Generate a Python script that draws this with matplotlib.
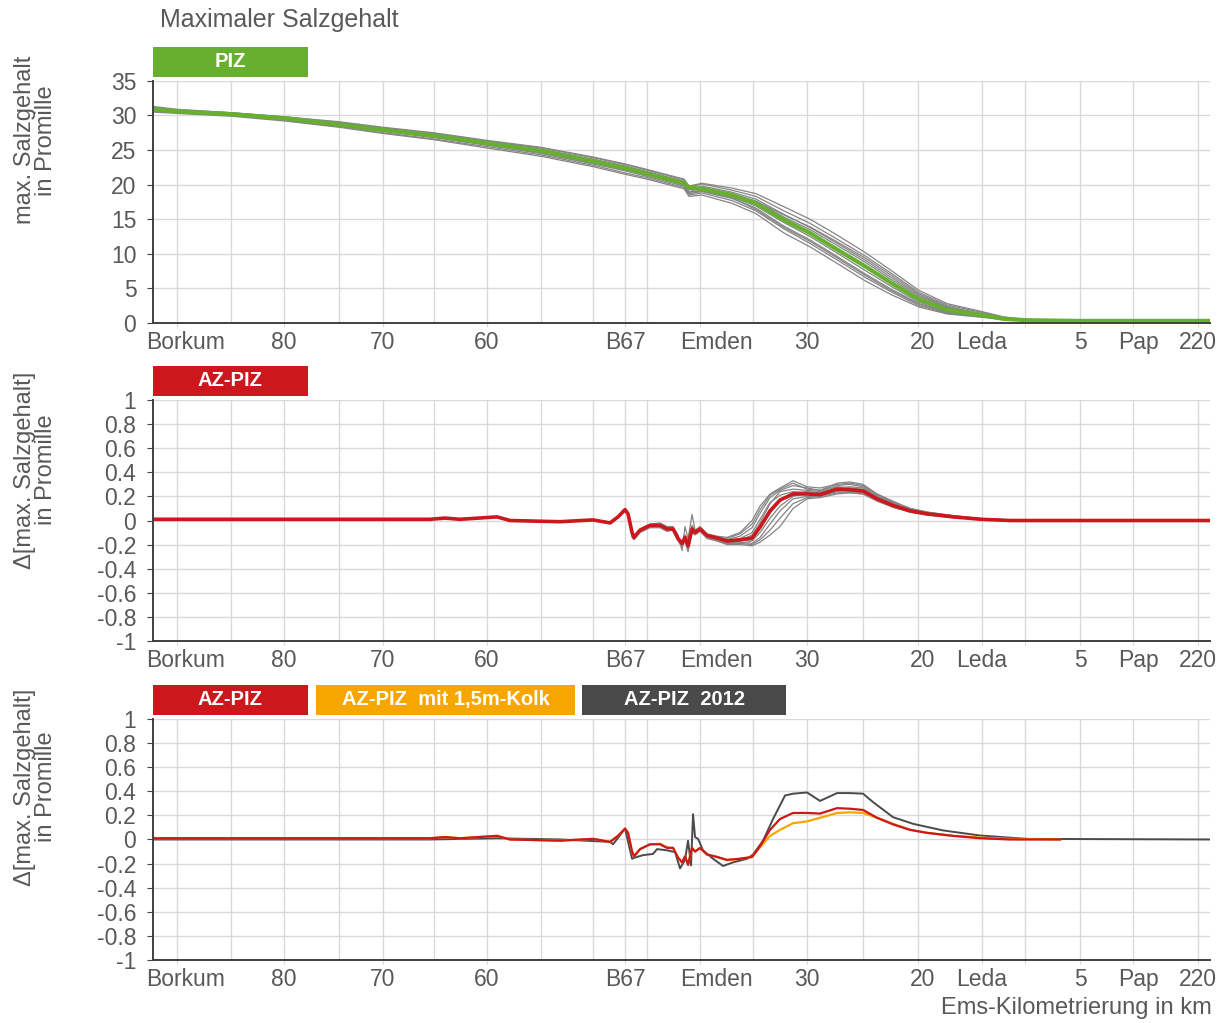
import matplotlib
matplotlib.use('Agg')
import matplotlib.pyplot as plt
import matplotlib.transforms as mtransforms
from matplotlib.patches import Rectangle

plt.rcParams['font.family'] = ['Liberation Sans', 'DejaVu Sans']
plt.rcParams['axes.unicode_minus'] = False

# ---- x axis (position along model axis, arbitrary units) ----
x_grid = [2.4, 7.8, 13.1, 18.6, 23.0, 28.1, 33.4, 38.8, 44.0, 47.2, 49.4,
          54.7, 60.0, 65.4, 71.0, 76.5, 82.9, 87.2, 92.7, 98.0, 104.5]
x_ticks = [2.4, 13.1, 23.0, 33.4, 47.2, 54.7, 65.4, 76.5, 82.9, 87.2, 92.7, 98.0, 104.5]
x_labels = ['Borkum', '80', '70', '60', 'B67', 'Emden', '30', '20', 'Leda', '', '5', 'Pap', '220']
x_max = 105.7

# ---- panel 1: max. salinity ----
s1 = [0.0, 2.4, 7.8, 13.2, 18.6, 23.0, 28.1, 33.4, 38.8, 44.0, 47.2, 49.4, 53.1, 53.6, 54.9,
      57.9, 60.3, 63.1, 65.7, 68.2, 71.2, 73.8, 76.6, 79.4, 83.0, 85.0, 87.3, 92.4, 105.7]
piz = [30.9, 30.6, 30.2, 29.6, 28.7, 27.9, 27.1, 26.0, 24.9, 23.4, 22.4, 21.6, 20.2, 19.6, 19.4,
       18.5, 17.3, 14.9, 13.0, 10.8, 8.2, 5.8, 3.4, 1.9, 1.1, 0.6, 0.4, 0.3, 0.3]
piz_members = [
    [31.2, 30.8, 30.4, 29.8, 29.0, 28.2, 27.4, 26.3, 25.3, 23.9, 22.9, 22.1, 20.7, 19.6, 20.1,
     19.2, 18.3, 16.2, 14.4, 12.3, 9.7, 7.2, 4.4, 2.6, 1.5, 0.8, 0.5, 0.3, 0.3],
    [31.0, 30.7, 30.3, 29.7, 28.9, 28.1, 27.3, 26.2, 25.1, 23.7, 22.7, 21.9, 20.5, 19.3, 19.8,
     18.9, 17.9, 15.7, 13.8, 11.7, 9.1, 6.6, 4.0, 2.3, 1.3, 0.7, 0.4, 0.3, 0.3],
    [30.8, 30.5, 30.1, 29.5, 28.6, 27.8, 26.9, 25.8, 24.7, 23.2, 22.1, 21.4, 20.0, 18.9, 19.2,
     18.2, 16.9, 14.5, 12.5, 10.3, 7.6, 5.3, 3.0, 1.7, 1.0, 0.6, 0.4, 0.3, 0.3],
    [30.6, 30.4, 30.0, 29.3, 28.4, 27.5, 26.6, 25.5, 24.3, 22.8, 21.7, 21.0, 19.6, 18.5, 18.8,
     17.7, 16.2, 13.6, 11.5, 9.3, 6.6, 4.5, 2.5, 1.4, 0.9, 0.5, 0.4, 0.3, 0.3],
    [31.1, 30.7, 30.3, 29.7, 28.8, 28.0, 27.2, 26.1, 25.0, 23.5, 22.5, 21.8, 20.4, 19.3, 19.6,
     18.7, 17.6, 15.3, 13.5, 11.4, 8.8, 6.3, 3.8, 2.2, 1.2, 0.7, 0.4, 0.3, 0.3],
    [30.7, 30.5, 30.1, 29.4, 28.5, 27.7, 26.8, 25.7, 24.5, 23.0, 22.0, 21.2, 19.8, 18.7, 19.0,
     18.0, 16.6, 14.0, 12.0, 9.8, 7.1, 4.9, 2.8, 1.6, 0.9, 0.6, 0.4, 0.3, 0.3],
    [31.3, 30.9, 30.4, 29.8, 29.1, 28.3, 27.5, 26.4, 25.4, 24.0, 23.0, 22.2, 20.8, 19.8, 20.2,
     19.5, 18.7, 16.8, 15.0, 12.9, 10.2, 7.6, 4.7, 2.8, 1.6, 0.9, 0.5, 0.3, 0.3],
    [30.5, 30.3, 29.9, 29.2, 28.3, 27.4, 26.5, 25.3, 24.1, 22.6, 21.5, 20.8, 19.4, 18.3, 18.5,
     17.3, 15.8, 13.0, 11.0, 8.8, 6.1, 4.1, 2.3, 1.3, 0.8, 0.5, 0.4, 0.3, 0.3],
    [30.9, 30.6, 30.2, 29.6, 28.7, 27.9, 27.0, 25.9, 24.8, 23.3, 22.3, 21.5, 20.1, 19.0, 19.5,
     18.6, 17.6, 15.6, 13.9, 11.9, 9.4, 6.9, 4.2, 2.4, 1.3, 0.7, 0.4, 0.3, 0.3],
    [30.8, 30.6, 30.2, 29.5, 28.6, 27.8, 26.9, 25.8, 24.6, 23.1, 22.2, 21.4, 20.0, 18.9, 19.1,
     18.1, 16.4, 13.8, 11.8, 9.6, 6.9, 4.7, 2.7, 1.5, 0.9, 0.6, 0.4, 0.3, 0.3],
]

# ---- panel 2/3: difference AZ-PIZ ----
s2 = [0.0, 27.7, 29.2, 30.7, 34.4, 35.7, 40.7, 44.0, 45.7, 46.5, 47.2, 47.5, 47.9, 48.1, 48.7,
      49.7, 50.7, 51.4, 52.0, 52.5, 52.9, 53.2, 53.5, 53.9, 54.2, 54.7, 55.4, 56.4, 57.4, 58.7,
      59.9, 60.7, 61.7, 62.7, 64.0, 65.4, 66.7, 68.4, 69.7, 71.0, 72.4, 74.0, 75.7, 77.4, 80.0,
      82.8, 85.7, 90.7, 105.7]
az_piz = [0.01, 0.01, 0.02, 0.01, 0.03, 0.0, -0.01, 0.005, -0.02, 0.03, 0.09, 0.055, -0.10, -0.14,
          -0.08, -0.04, -0.04, -0.07, -0.07, -0.15, -0.19, -0.14, -0.21, -0.07, -0.10, -0.07, -0.125,
          -0.145, -0.17, -0.16, -0.145, -0.055, 0.08, 0.17, 0.22, 0.22, 0.215, 0.26, 0.255, 0.245,
          0.18, 0.125, 0.08, 0.055, 0.03, 0.01, 0.0, 0.0, 0.0]
az_members = [
    [0.01, 0.01, 0.02, 0.01, 0.03, 0.0, -0.01, 0.005, -0.02, 0.035, 0.10, 0.06, -0.12, -0.15, -0.07,
     -0.03, -0.02, -0.05, -0.05, -0.12, -0.25, -0.05, -0.15, 0.05, -0.08, -0.05, -0.11, -0.13, -0.14,
     -0.10, 0.00, 0.12, 0.22, 0.27, 0.33, 0.28, 0.27, 0.30, 0.31, 0.29, 0.22, 0.16, 0.10, 0.07, 0.04,
     0.015, 0.005, 0.0, 0.0],
    [0.01, 0.01, 0.02, 0.01, 0.03, 0.0, -0.01, 0.0, -0.025, 0.025, 0.08, 0.05, -0.14, -0.16, -0.10,
     -0.06, -0.06, -0.09, -0.08, -0.17, -0.22, -0.17, -0.26, -0.10, -0.12, -0.09, -0.15, -0.17, -0.20,
     -0.20, -0.21, -0.18, -0.12, -0.05, 0.10, 0.18, 0.19, 0.22, 0.23, 0.22, 0.17, 0.11, 0.07, 0.05,
     0.025, 0.01, 0.0, 0.0, 0.0],
    [0.01, 0.01, 0.02, 0.01, 0.03, 0.0, -0.01, 0.005, -0.02, 0.03, 0.09, 0.05, -0.09, -0.13, -0.09,
     -0.05, -0.05, -0.06, -0.08, -0.14, -0.18, -0.12, -0.19, -0.05, -0.09, -0.08, -0.13, -0.16, -0.18,
     -0.17, -0.12, -0.02, 0.14, 0.24, 0.26, 0.25, 0.24, 0.28, 0.27, 0.26, 0.20, 0.14, 0.09, 0.06,
     0.035, 0.012, 0.0, 0.0, 0.0],
    [0.01, 0.01, 0.02, 0.01, 0.03, 0.0, -0.01, 0.005, -0.02, 0.03, 0.09, 0.06, -0.11, -0.15, -0.08,
     -0.04, -0.03, -0.07, -0.06, -0.16, -0.20, -0.15, -0.22, -0.08, -0.11, -0.08, -0.13, -0.15, -0.18,
     -0.18, -0.19, -0.14, -0.03, 0.08, 0.18, 0.20, 0.20, 0.24, 0.23, 0.22, 0.16, 0.11, 0.07, 0.045,
     0.025, 0.01, 0.0, 0.0, 0.0],
    [0.01, 0.01, 0.02, 0.01, 0.03, 0.0, -0.01, 0.005, -0.02, 0.03, 0.09, 0.055, -0.10, -0.14, -0.08,
     -0.04, -0.04, -0.07, -0.07, -0.15, -0.19, -0.13, -0.20, -0.07, -0.10, -0.07, -0.12, -0.14, -0.16,
     -0.13, -0.06, 0.06, 0.19, 0.25, 0.29, 0.27, 0.25, 0.29, 0.30, 0.28, 0.21, 0.15, 0.10, 0.065,
     0.04, 0.015, 0.005, 0.0, 0.0],
    [0.01, 0.01, 0.02, 0.01, 0.03, 0.0, -0.01, 0.005, -0.02, 0.03, 0.09, 0.05, -0.10, -0.14, -0.08,
     -0.04, -0.04, -0.07, -0.07, -0.15, -0.19, -0.14, -0.21, -0.07, -0.10, -0.07, -0.14, -0.16, -0.19,
     -0.19, -0.17, -0.10, 0.02, 0.12, 0.20, 0.23, 0.22, 0.26, 0.27, 0.25, 0.19, 0.13, 0.085, 0.06,
     0.03, 0.01, 0.0, 0.0, 0.0],
    [0.01, 0.01, 0.02, 0.01, 0.03, 0.0, -0.01, 0.005, -0.02, 0.03, 0.095, 0.05, -0.11, -0.15, -0.09,
     -0.05, -0.04, -0.06, -0.07, -0.14, -0.21, -0.13, -0.18, -0.04, -0.09, -0.07, -0.12, -0.14, -0.15,
     -0.11, -0.03, 0.09, 0.21, 0.26, 0.31, 0.26, 0.25, 0.31, 0.32, 0.30, 0.22, 0.15, 0.10, 0.07,
     0.04, 0.015, 0.005, 0.0, 0.0],
    [0.01, 0.01, 0.02, 0.01, 0.03, 0.0, -0.01, 0.005, -0.02, 0.03, 0.085, 0.05, -0.12, -0.15, -0.09,
     -0.05, -0.05, -0.08, -0.08, -0.16, -0.21, -0.16, -0.24, -0.09, -0.11, -0.08, -0.14, -0.17, -0.19,
     -0.19, -0.20, -0.16, -0.08, 0.02, 0.14, 0.19, 0.20, 0.23, 0.24, 0.23, 0.17, 0.12, 0.075, 0.05,
     0.025, 0.01, 0.0, 0.0, 0.0],
    [0.01, 0.01, 0.02, 0.01, 0.03, 0.0, -0.01, 0.005, -0.02, 0.03, 0.09, 0.055, -0.10, -0.14, -0.08,
     -0.04, -0.04, -0.07, -0.07, -0.15, -0.19, -0.14, -0.21, -0.07, -0.10, -0.07, -0.13, -0.15, -0.17,
     -0.15, -0.10, 0.01, 0.15, 0.21, 0.24, 0.23, 0.23, 0.27, 0.26, 0.25, 0.19, 0.13, 0.085, 0.06,
     0.03, 0.01, 0.0, 0.0, 0.0],
    [0.01, 0.01, 0.02, 0.01, 0.03, 0.0, -0.01, 0.005, -0.02, 0.03, 0.09, 0.055, -0.10, -0.14, -0.08,
     -0.04, -0.04, -0.07, -0.07, -0.15, -0.19, -0.14, -0.21, -0.07, -0.10, -0.07, -0.125, -0.145, -0.17,
     -0.17, -0.16, -0.07, 0.06, 0.16, 0.23, 0.24, 0.23, 0.27, 0.28, 0.27, 0.21, 0.14, 0.09, 0.06,
     0.035, 0.012, 0.0, 0.0, 0.0],
]
az_kolk = [0.01, 0.01, 0.02, 0.01, 0.03, 0.0, -0.01, 0.005, -0.02, 0.03, 0.09, 0.055, -0.10, -0.14,
           -0.08, -0.04, -0.035, -0.065, -0.07, -0.15, -0.19, -0.14, -0.21, -0.07, -0.10, -0.07, -0.125,
           -0.145, -0.17, -0.16, -0.145, -0.065, 0.03, 0.08, 0.135, 0.15, 0.18, 0.22, 0.225, 0.22,
           0.18, 0.13, 0.08, 0.055, 0.03, 0.015, 0.005, 0.0, 0.0]

s3 = [0.0, 27.7, 34.4, 40.7, 45.7, 46.0, 47.2, 47.9, 48.2, 49.0, 50.0, 50.4, 51.4, 52.2, 52.7, 53.2,
      53.5, 53.8, 54.0, 54.2, 54.5, 55.0, 56.0, 57.0, 58.0, 59.4, 60.0, 61.0, 62.0, 63.2, 64.0, 65.4,
      66.7, 68.4, 69.7, 71.0, 72.0, 74.0, 76.0, 79.0, 82.7, 87.4, 105.7]
az_2012 = [0.0, 0.0, 0.01, 0.0, -0.02, -0.04, 0.09, -0.16, -0.15, -0.13, -0.12, -0.08, -0.09, -0.105,
           -0.24, -0.17, -0.01, -0.215, 0.21, 0.02, 0.005, -0.09, -0.16, -0.22, -0.19, -0.16, -0.125,
           -0.01, 0.17, 0.365, 0.38, 0.39, 0.32, 0.385, 0.385, 0.38, 0.31, 0.185, 0.13, 0.075, 0.033,
           0.005, 0.0]

sal_ticks = [0, 5, 10, 15, 20, 25, 30, 35]
diff_ticks = [-1, -0.8, -0.6, -0.4, -0.2, 0, 0.2, 0.4, 0.6, 0.8, 1]
diff_labels = ['-1', '-0.8', '-0.6', '-0.4', '-0.2', '0', '0.2', '0.4', '0.6', '0.8', '1']

TXT = '#595959'
GRID = '#d9d9d9'
SPINE = '#404040'
GREEN = '#67b02f'
RED = '#cc171d'
ORANGE = '#f7a600'
DARK = '#4a4a4a'
GREY = '#858585'

fig = plt.figure(figsize=(12.32, 10.23), dpi=100)
ax1 = fig.add_axes([0.1242, 0.6843, 0.858, 0.2366])
ax2 = fig.add_axes([0.1242, 0.3734, 0.858, 0.2356])
ax3 = fig.add_axes([0.1242, 0.0616, 0.858, 0.2356])

label_shift = {'Borkum': 6, 'Emden': 12, '20': 3, 'Pap': 4}


def style(ax, yticks, ylabels, ylim, ylabel, ylab_y):
    ax.set_xlim(0, x_max)
    ax.set_ylim(*ylim)
    ax.set_xticks(x_grid, minor=True)
    ax.set_xticks(x_ticks)
    ax.set_xticklabels(x_labels)
    ax.set_yticks(yticks)
    ax.set_yticklabels(ylabels)
    ax.grid(True, which='both', color=GRID, linewidth=1.0)
    ax.set_axisbelow(True)
    for sp in ['top', 'right']:
        ax.spines[sp].set_visible(False)
    for sp in ['left', 'bottom']:
        ax.spines[sp].set_color(SPINE)
        ax.spines[sp].set_linewidth(1.4)
    ax.tick_params(axis='x', which='major', length=3, pad=2.5, colors=GRID,
                   labelcolor=TXT, labelsize=16.5)
    ax.tick_params(axis='x', which='minor', length=0)
    ax.tick_params(axis='y', length=4, pad=8, colors=SPINE, labelcolor=TXT, labelsize=16.5)
    for lab in ax.get_xticklabels():
        dx = label_shift.get(lab.get_text(), 0)
        if dx:
            lab.set_transform(lab.get_transform() +
                              mtransforms.ScaledTranslation(dx / 72, 0, fig.dpi_scale_trans))
    ax.set_ylabel(ylabel, fontsize=17, color=TXT, linespacing=0.95)
    ax.yaxis.set_label_coords(-0.091, ylab_y)


def tag(ax, x0, w, color, text):
    ax.add_patch(Rectangle((x0, 1.0166), w, 0.1245, transform=ax.transAxes,
                           facecolor=color, edgecolor='none', clip_on=False))
    ax.text(x0 + w / 2, 1.0166 + 0.1245 / 2, text, transform=ax.transAxes,
            ha='center', va='center', color='white', fontsize=14.5, fontweight='bold')


# panel 1
for m in piz_members:
    ax1.plot(s1, m, color=GREY, linewidth=0.9)
ax1.plot(s1, piz, color=GREEN, linewidth=3)
style(ax1, sal_ticks, [str(t) for t in sal_ticks], (0, 35),
      'max. Salzgehalt\nin Promille', 0.755)
tag(ax1, 0.0, 0.1466, GREEN, 'PIZ')

# panel 2
for m in az_members:
    ax2.plot(s2, m, color=GREY, linewidth=0.9)
ax2.plot(s2, az_piz, color=RED, linewidth=2.6)
style(ax2, diff_ticks, diff_labels, (-1, 1),
      '\u0394[max. Salzgehalt]\nin Promille', 0.71)
tag(ax2, 0.0, 0.1466, RED, 'AZ-PIZ')

# panel 3
ax3.plot(s3, az_2012, color=DARK, linewidth=1.4)
ax3.plot(s2[:48], az_kolk[:48], color=ORANGE, linewidth=1.6)
ax3.plot(s2[:48], az_piz[:48], color=RED, linewidth=1.6)
style(ax3, diff_ticks, diff_labels, (-1, 1),
      '\u0394[max. Salzgehalt]\nin Promille', 0.718)
tag(ax3, 0.0, 0.1466, RED, 'AZ-PIZ')
tag(ax3, 0.1542, 0.245, ORANGE, 'AZ-PIZ  mit 1,5m-Kolk')
tag(ax3, 0.406, 0.193, DARK, 'AZ-PIZ  2012')

fig.text(160 / 1232, 1 - 20 / 1023, 'Maximaler Salzgehalt', fontsize=18, color=TXT,
         ha='left', va='center')
fig.text(1212 / 1232, 1 - 1008 / 1023, 'Ems-Kilometrierung in km', fontsize=17, color=TXT,
         ha='right', va='center')

fig.savefig('out.png', dpi=100)
